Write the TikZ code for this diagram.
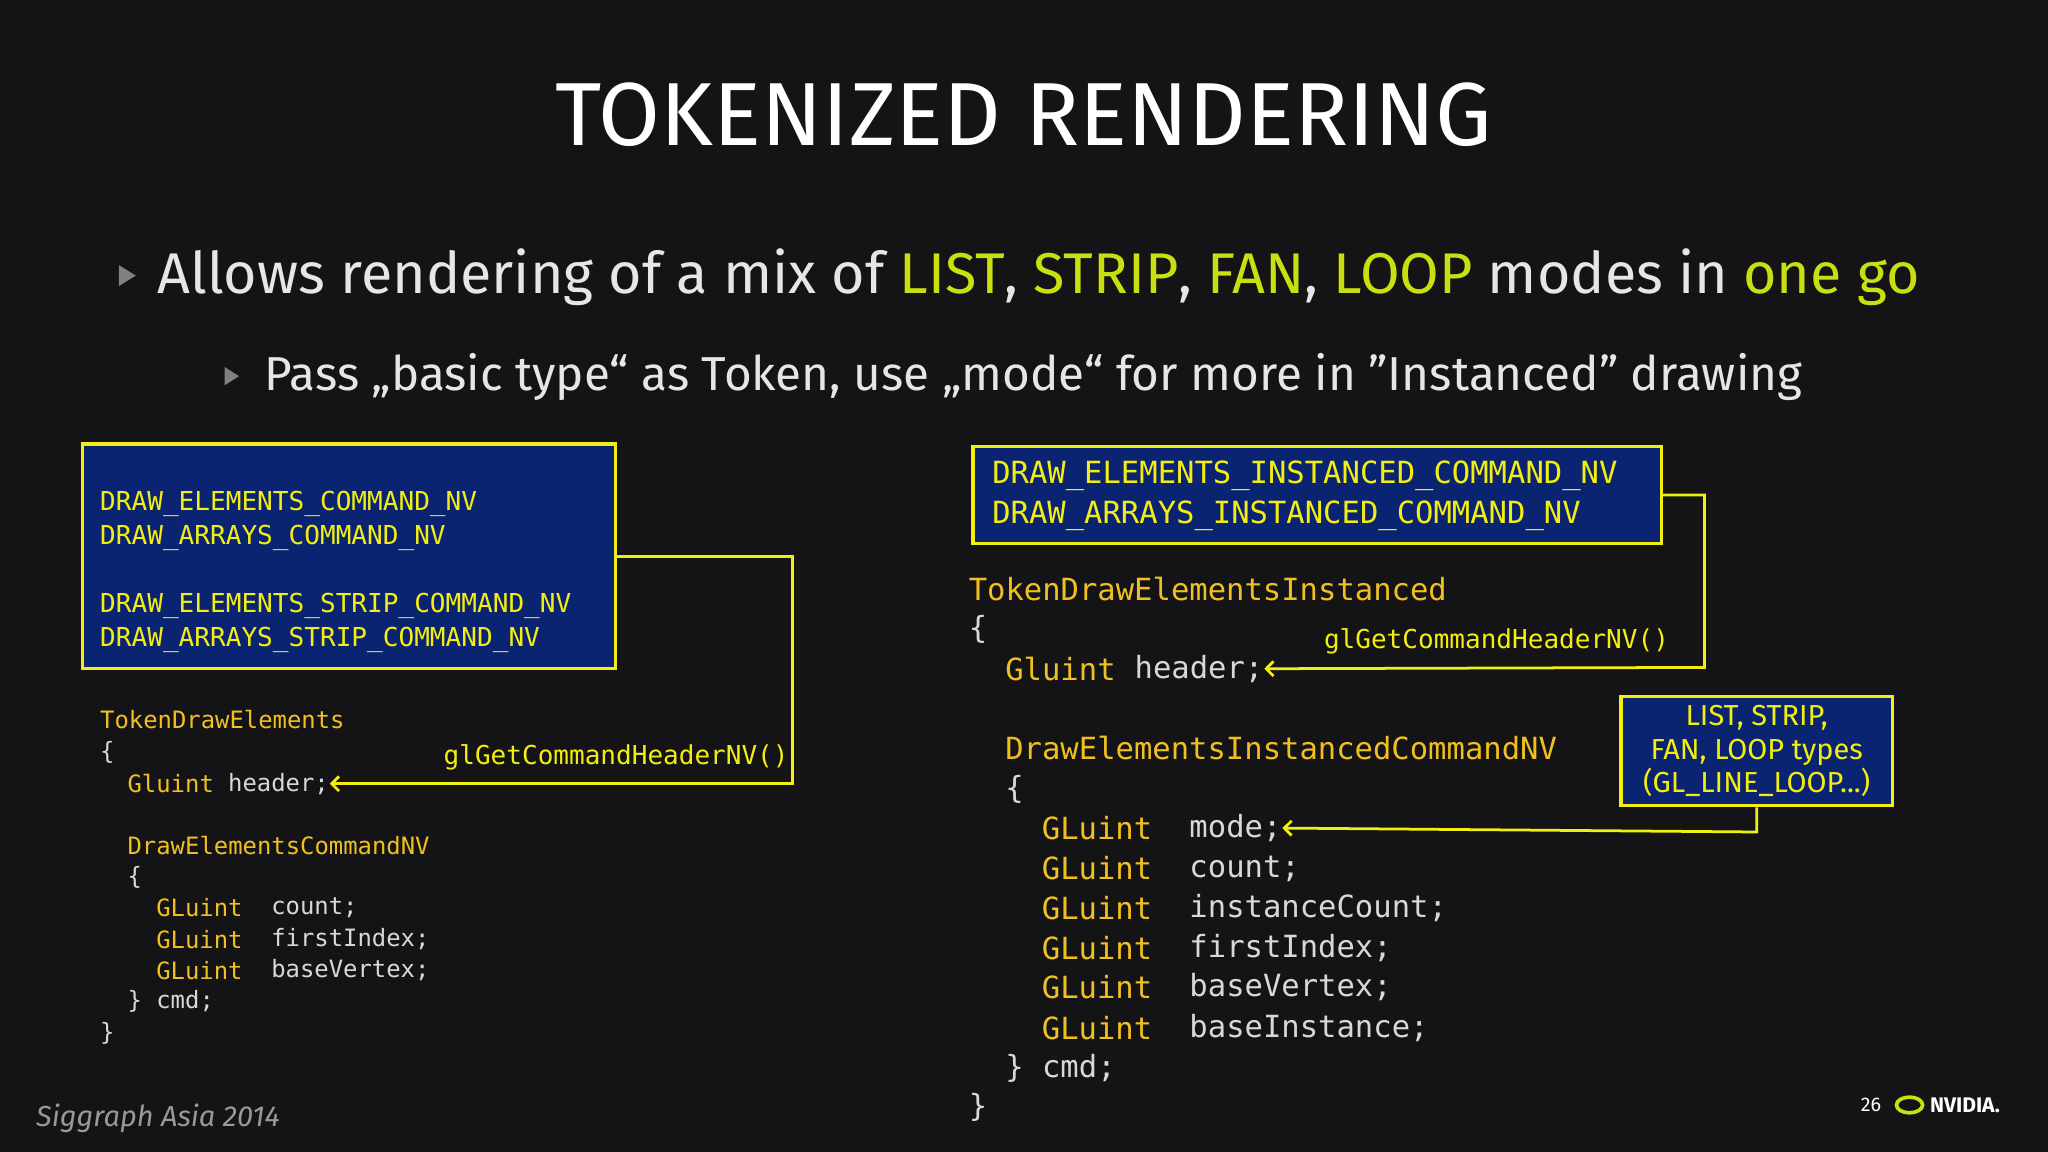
\documentclass[tikz,border=0pt]{standalone}
\usepackage{fontspec}
\setmainfont{Fira Sans}
\setmonofont{DejaVu Sans Mono}
\usetikzlibrary{arrows.meta}
\definecolor{bg}{HTML}{141416}
\definecolor{ylw}{HTML}{F2EE10}
\definecolor{gold}{HTML}{F0C020}
\definecolor{lime}{HTML}{C8E010}
\definecolor{txt}{HTML}{E6E6E6}
\definecolor{code}{HTML}{D8D8D8}
\definecolor{boxblue}{HTML}{0B2472}
\tikzset{
  blk/.style={inner sep=0pt,anchor=west},
  lb/.style={blk,font=\fontsize{5.68}{6}\ttfamily},
  lc/.style={blk,font=\fontsize{5.2}{6}\ttfamily},
  rc/.style={blk,font=\fontsize{6.65}{7}\ttfamily},
  lbl/.style={blk,text=ylw,font=\fontsize{5.67}{6}\ttfamily},
  cmdbox/.style={draw=ylw,line width=0.7pt,fill=boxblue},
  conn/.style={draw=ylw,line width=0.6pt},
  arr/.style={conn,-{Straight Barb[length=1.6pt,width=3.2pt]}},
}
\begin{document}
\begin{tikzpicture}[x=0.01cm,y=-0.01cm]
\fill[bg] (0,0) rectangle (1568,882);
\useasboundingbox (0,0) rectangle (1568,882);
% title
\node[inner sep=0pt,text=white,font=\fontsize{19.5}{20}\selectfont] (title) at (784,88) {TOKENIZED RENDERING};
% bullets
\fill[gray] (91,203) -- (104,211) -- (91,219) -- cycle;
\node[blk,text=txt,font=\fontsize{12.5}{13}\selectfont] (b1) at (120,212) {Allows rendering of a mix of \textcolor{lime}{LIST}, \textcolor{lime}{STRIP}, \textcolor{lime}{FAN}, \textcolor{lime}{LOOP} modes in \textcolor{lime}{one go}};
\fill[gray] (172,281) -- (183,288) -- (172,295) -- cycle;
\node[blk,text=txt,font=\fontsize{10.37}{11}\selectfont] (b2) at (202,289) {Pass „basic type“ as Token, use „mode“ for more in \symbol{34}Instanced\symbol{34} drawing};
% left box
\path[cmdbox] (63,340) rectangle (471,512);
\coordinate (lbr) at (471,426);
\foreach \t/\y in {DRAW\_ELEMENTS\_COMMAND\_NV/386,DRAW\_ARRAYS\_COMMAND\_NV/412,DRAW\_ELEMENTS\_STRIP\_COMMAND\_NV/464,DRAW\_ARRAYS\_STRIP\_COMMAND\_NV/490}
  \node[lb,text=ylw] at (76,\y) {\t};
% left code
\node[lc,text=gold] (l1) at (76,551) {TokenDrawElements};
\node[lc,text=code] at (76,576) {\{};
\node[lc,text=gold] at (97,600) {Gluint};
\node[lc,text=code] (lhdr) at (174,600) {header;};
\node[lc,text=gold] at (97,647) {DrawElementsCommandNV};
\node[lc,text=code] at (97,672) {\{};
\foreach \n/\y in {count;/695,firstIndex;/719,baseVertex;/743}{
  \node[lc,text=gold] at (119,\y) {GLuint};
  \node[lc,text=code] at (207,\y) {\n};}
\node[lc,text=code] at (97,767) {\} cmd;};
\node[lc,text=code] at (76,791) {\}};
\coordinate (lc1) at (607,426);
\coordinate (lc2) at (607,600);
\draw[arr] (lbr) -- (lc1) -- (lc2) -- (lhdr.east);
\node[lbl] (lbl1) at (339,580) {glGetCommandHeaderNV()};
% right box
\path[cmdbox] (745,342) rectangle (1272,416);
\coordinate (rbr) at (1272,379);
\node[rc,text=ylw] at (759,364) {DRAW\_ELEMENTS\_INSTANCED\_COMMAND\_NV};
\node[rc,text=ylw] at (759,395) {DRAW\_ARRAYS\_INSTANCED\_COMMAND\_NV};
% right code
\node[rc,text=gold] at (741,451) {TokenDrawElementsInstanced};
\node[rc,text=code] at (741,482) {\{};
\node[rc,text=gold] at (769,512) {Gluint};
\node[rc,text=code] (rhdr) at (868,512) {header;};
\node[rc,text=gold] at (769,573) {DrawElementsInstancedCommandNV};
\node[rc,text=code] at (769,604) {\{};
\foreach \n/\y/\k in {mode;/634/m,count;/665/c,instanceCount;/695/i,firstIndex;/726/f,baseVertex;/756/b,baseInstance;/787/s}{
  \node[rc,text=gold] at (797,\y) {GLuint};
  \node[rc,text=code] (r\k) at (910,\y) {\n};}
\node[rc,text=code] at (769,818) {\} cmd;};
\node[rc,text=code] at (741,848) {\}};
\coordinate (rc1) at (1305,379);
\coordinate (rc2) at (1305,511);
\draw[arr] (rbr) -- (rc1) -- (rc2) -- (rhdr.east);
\node[lbl] at (1013,491) {glGetCommandHeaderNV()};
% types box
\node[cmdbox,minimum width=208*0.01cm,minimum height=84*0.01cm,inner sep=0pt,align=center,text=ylw,font=\fontsize{6.3}{7.2}\selectfont] (types) at (1345,575) {LIST, STRIP,\\FAN, LOOP types\\(GL\_LINE\_LOOP...)};
\coordinate (tc) at (1345,637);
\draw[arr] (types.south) -- (tc) -- (rm.east);
% footer
\node[blk,text=gray!80,font=\fontsize{6.3}{7}\itshape] (foot) at (27,856) {Siggraph Asia 2014};
\node[blk,text=white,font=\fontsize{4.3}{5}\selectfont] (pg) at (1424,846) {26};
\node[blk,text=white,font=\fontsize{4.6}{5}\bfseries] (nv) at (1477,846) {NVIDIA.};
\draw[lime,line width=0.8pt] (1462,846) ellipse (10 and 6);
\end{tikzpicture}
\end{document}
